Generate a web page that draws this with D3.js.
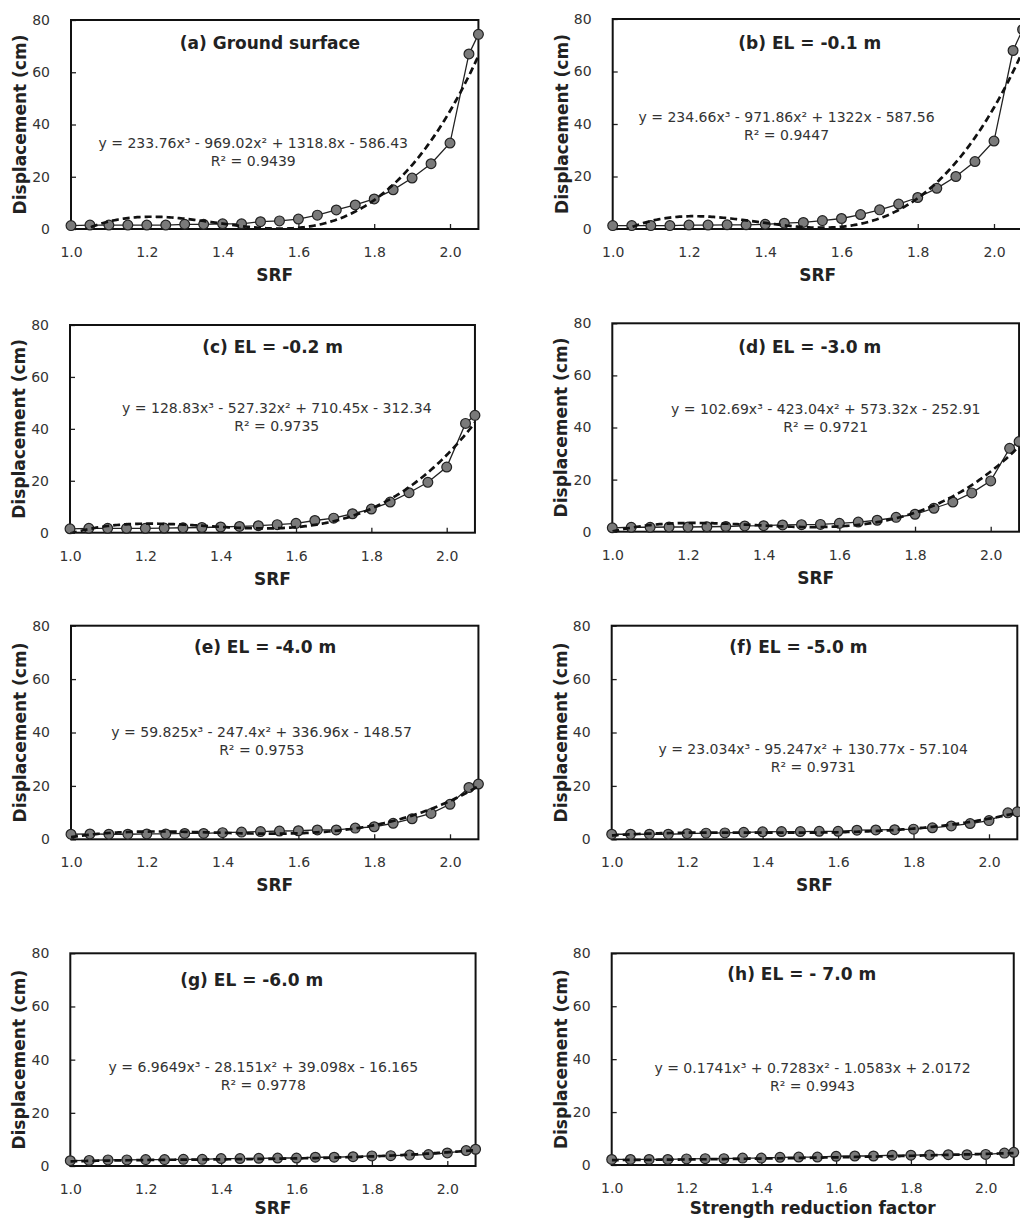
<!DOCTYPE html>
<html>
<head>
<meta charset="utf-8">
<script src="https://cdn.jsdelivr.net/npm/d3@7"></script>
<style>
  body { margin: 0; background: #fff; }
  svg { display: block; font-family: "DejaVu Sans", Verdana, sans-serif; }
</style>
</head>
<body>
<div id="chart"></div>
<script>
// Strength reduction factor steps (shared by every panel)
const srf = [1.00, 1.05, 1.10, 1.15, 1.20, 1.25, 1.30, 1.35, 1.40, 1.45, 1.50, 1.55,
             1.60, 1.65, 1.70, 1.75, 1.80, 1.85, 1.90, 1.95, 2.00, 2.05, 2.075];

// Displacement (cm)
const dispA = [1.3, 1.5, 1.5, 1.5, 1.5, 1.5, 1.8, 1.8, 2.0, 2.0, 2.8, 3.1, 3.8, 5.3, 7.3, 9.2, 11.5, 15.0, 19.5, 25.0, 32.9, 67.0, 74.5];
const dispB = [1.3, 1.3, 1.3, 1.3, 1.5, 1.5, 1.6, 1.6, 1.8, 2.2, 2.5, 3.2, 4.0, 5.5, 7.3, 9.5, 12.0, 15.5, 20.0, 25.7, 33.5, 68.0, 76.0];
const dispC = [1.5, 1.7, 1.7, 1.7, 1.7, 1.8, 1.9, 2.0, 2.2, 2.4, 2.7, 3.1, 3.6, 4.7, 5.6, 7.3, 9.1, 11.8, 15.4, 19.4, 25.3, 42.1, 45.2];
const dispD = [1.5, 1.7, 1.7, 1.8, 1.8, 1.9, 2.0, 2.2, 2.3, 2.6, 2.7, 2.8, 3.2, 3.7, 4.4, 5.5, 6.7, 9.0, 11.4, 14.9, 19.5, 32.0, 34.6];
const dispE = [1.9, 2.0, 1.9, 1.9, 2.0, 2.0, 2.2, 2.2, 2.5, 2.7, 2.9, 3.1, 3.2, 3.5, 3.5, 4.2, 4.7, 6.0, 7.7, 9.7, 13.1, 19.4, 20.7];
const dispF = [1.9, 1.9, 1.9, 1.9, 2.1, 2.3, 2.4, 2.6, 2.8, 2.9, 2.9, 3.0, 3.0, 3.4, 3.5, 3.6, 3.8, 4.3, 5.0, 5.9, 7.0, 9.9, 10.3];
const dispG = [2.0, 2.1, 2.3, 2.3, 2.4, 2.4, 2.5, 2.5, 2.8, 2.8, 2.9, 3.0, 3.0, 3.3, 3.3, 3.5, 3.8, 3.9, 4.1, 4.3, 4.9, 5.8, 6.3];
const dispH = [2.1, 2.1, 2.1, 2.1, 2.3, 2.4, 2.4, 2.6, 2.6, 2.9, 3.0, 3.0, 3.3, 3.4, 3.4, 3.7, 3.7, 3.8, 3.9, 3.9, 4.0, 4.5, 4.8];

// Cubic trendline coefficients as printed (x^3, x^2, x, const)
const fitA = [233.76, -969.02, 1318.8, -586.43];
const fitB = [234.66, -971.86, 1322, -587.56];
const fitC = [128.83, -527.32, 710.45, -312.34];
const fitD = [102.69, -423.04, 573.32, -252.91];
const fitE = [59.825, -247.4, 336.96, -148.57];
const fitF = [23.034, -95.247, 130.77, -57.104];
const fitG = [6.9649, -28.151, 39.098, -16.165];
const fitH = [0.1741, 0.7283, -1.0583, 2.0172];

const r2Values = ["0.9439", "0.9447", "0.9735", "0.9721", "0.9753", "0.9731", "0.9778", "0.9943"];
const panelTitles = ["(a) Ground surface", "(b) EL = -0.1 m", "(c) EL = -0.2 m", "(d) EL = -3.0 m",
                     "(e) EL = -4.0 m", "(f) EL = -5.0 m", "(g) EL = -6.0 m", "(h) EL = - 7.0 m"];
const xTitles = ["SRF", "SRF", "SRF", "SRF", "SRF", "SRF", "SRF", "Strength reduction factor"];
const xTicks = [1.0, 1.2, 1.4, 1.6, 1.8, 2.0];
const yTicks = [0, 20, 40, 60, 80];

const series = [dispA, dispB, dispC, dispD, dispE, dispF, dispG, dispH];
const fits = [fitA, fitB, fitC, fitD, fitE, fitF, fitG, fitH];

// Panel boxes in pixels and label anchors (in data units)
const layout = [
  { l: 71,    x2: 450,   t: 20,    b: 229,    tx: 1.525, ty: 71, ex: 1.481, ey: 32.9, xt: 46 },
  { l: 612.7, x2: 994,   t: 19,    b: 229,    tx: 1.517, ty: 71, ex: 1.456, ey: 42.8, xt: 46 },
  { l: 70,    x2: 446.7, t: 325,   b: 532.7,  tx: 1.538, ty: 71.5, ex: 1.549, ey: 47.9, xt: 46 },
  { l: 612.3, x2: 990.7, t: 323.3, b: 531.7,  tx: 1.522, ty: 71, ex: 1.564, ey: 47.1, xt: 46 },
  { l: 71,    x2: 450,   t: 625.7, b: 839.3,  tx: 1.512, ty: 72, ex: 1.503, ey: 40.3, xt: 46 },
  { l: 611.7, x2: 989,   t: 625.7, b: 839.3,  tx: 1.495, ty: 72, ex: 1.534, ey: 33.8, xt: 46 },
  { l: 70.3,  x2: 447.3, t: 953.3, b: 1166,   tx: 1.481, ty: 70, ex: 1.512, ey: 37.3, xt: 42 },
  { l: 611.7, x2: 985.7, t: 953.3, b: 1165,   tx: 1.508, ty: 72, ex: 1.537, ey: 36.5, xt: 43 }
];

const xMin = 1.0, xMax = 2.075;

const svg = d3.select("#chart").append("svg")
  .attr("width", 1020)
  .attr("height", 1220);

const sup = ["³", "²", "", ""];
function equationText(c) {
  let s = "y = " + c[0] + "x³";
  for (let i = 1; i < 4; i++) {
    const sign = c[i] < 0 ? " - " : " + ";
    s += sign + Math.abs(c[i]) + (i < 3 ? "x" : "") + sup[i];
  }
  return s;
}

series.forEach((vals, i) => {
  const L = layout[i];
  const right = L.l + (xMax - xMin) * (L.x2 - L.l);
  const x = d3.scaleLinear().domain([xMin, xMax]).range([L.l, right]);
  const y = d3.scaleLinear().domain([0, 80]).range([L.b, L.t]);
  const data = srf.map((s, j) => ({ s: s, d: vals[j] }));
  const g = svg.append("g");

  g.append("clipPath").attr("id", "clip" + i)
    .append("rect")
      .attr("x", L.l).attr("y", L.t)
      .attr("width", right - L.l).attr("height", L.b - L.t);

  // Axes, ticks pointing inside
  const xa = g.append("g")
    .attr("transform", `translate(0,${L.b})`)
    .call(d3.axisBottom(x).tickValues(xTicks).tickFormat(d3.format(".1f"))
      .tickSizeInner(-5).tickSizeOuter(0).tickPadding(18));
  const ya = g.append("g")
    .attr("transform", `translate(${L.l},0)`)
    .call(d3.axisLeft(y).tickValues(yTicks)
      .tickSizeInner(-5).tickSizeOuter(0).tickPadding(21));
  [xa, ya].forEach(a => {
    a.select(".domain").remove();
    a.selectAll("line").attr("stroke", "#222").attr("stroke-width", 1.3);
    a.selectAll("text")
      .attr("font-size", 14)
      .attr("font-family", '"DejaVu Sans", Verdana, sans-serif')
      .attr("fill", "#333");
  });

  // Plot frame
  g.append("rect")
    .attr("x", L.l).attr("y", L.t)
    .attr("width", right - L.l).attr("height", L.b - L.t)
    .attr("fill", "none").attr("stroke", "#111").attr("stroke-width", 2);

  // Data line and markers
  const line = d3.line().x(d => x(d.s)).y(d => y(d.d));
  g.append("path")
    .datum(data)
    .attr("fill", "none")
    .attr("stroke", "#222")
    .attr("stroke-width", 1.3)
    .attr("d", line);
  g.selectAll("circle.pt")
    .data(data)
    .join("circle")
      .attr("class", "pt")
      .attr("cx", d => x(d.s))
      .attr("cy", d => y(d.d))
      .attr("r", 4.9)
      .attr("fill", "#7a7a7a")
      .attr("stroke", "#222")
      .attr("stroke-width", 1.2);

  // Cubic trendline from the printed coefficients
  const c = fits[i];
  const poly = v => ((c[0] * v + c[1]) * v + c[2]) * v + c[3];
  const curve = d3.range(xMin, xMax + 1e-9, 0.005).map(v => ({ s: v, d: poly(v) }));
  g.append("path")
    .datum(curve)
    .attr("clip-path", `url(#clip${i})`)
    .attr("fill", "none")
    .attr("stroke", "#111")
    .attr("stroke-width", 2.7)
    .attr("stroke-dasharray", "7,4")
    .attr("d", line);

  // Panel title
  g.append("text")
    .attr("x", x(L.tx)).attr("y", y(L.ty))
    .attr("text-anchor", "middle").attr("dy", "0.35em")
    .attr("font-size", 17).attr("font-weight", "bold").attr("fill", "#222")
    .text(panelTitles[i]);

  // Equation and R²
  g.append("text")
    .attr("x", x(L.ex)).attr("y", y(L.ey))
    .attr("text-anchor", "middle").attr("dy", "0.35em")
    .attr("font-size", 14).attr("fill", "#333")
    .text(equationText(c));
  g.append("text")
    .attr("x", x(L.ex)).attr("y", y(L.ey) + 18)
    .attr("text-anchor", "middle").attr("dy", "0.35em")
    .attr("font-size", 14).attr("fill", "#333")
    .text("R² = " + r2Values[i]);

  // Axis titles
  g.append("text")
    .attr("x", (L.l + right) / 2).attr("y", L.b + L.xt)
    .attr("text-anchor", "middle").attr("dy", "0.35em")
    .attr("font-size", 17).attr("font-weight", "bold").attr("fill", "#222")
    .text(xTitles[i]);
  g.append("text")
    .attr("transform", `translate(${L.l - 51},${(L.t + L.b) / 2}) rotate(-90)`)
    .attr("text-anchor", "middle").attr("dy", "0.35em")
    .attr("font-size", 17).attr("font-weight", "bold").attr("fill", "#222")
    .text("Displacement (cm)");
});
</script>
</body>
</html>
